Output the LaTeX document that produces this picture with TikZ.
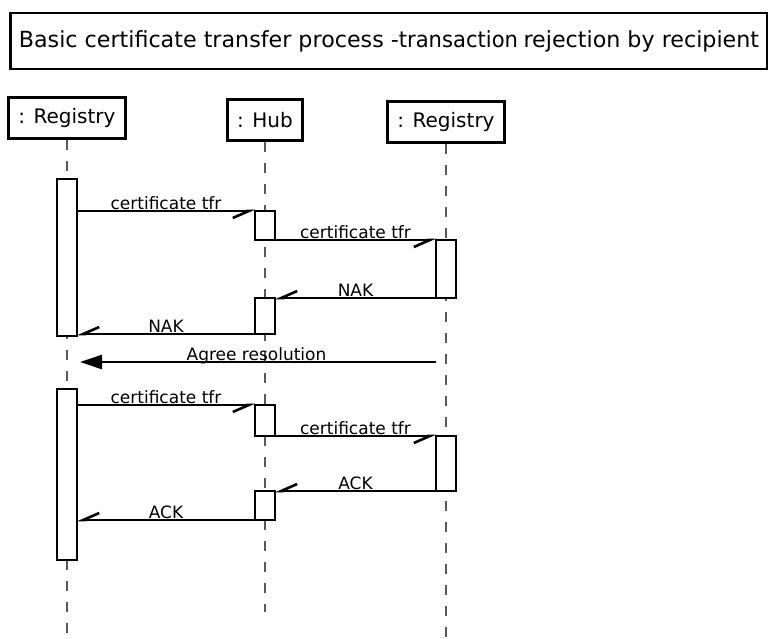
\documentclass[tikz,border=0pt]{standalone}
\usepackage{fontspec}
\setmainfont{DejaVu Sans}
\usepackage{graphicx}
\usetikzlibrary{arrows.meta}

\begin{document}
\begin{tikzpicture}[x=1pt, y=-1pt,
  every node/.style={font=\fontsize{17}{20}\selectfont},
  head/.style={draw, line width=3pt, inner xsep=10pt, minimum height=41pt, font=\fontsize{20}{24}\selectfont},
  act/.style={draw, fill=white, line width=2.6pt, minimum width=20pt, inner sep=0pt, outer sep=0pt, anchor=north},
  life/.style={line width=2pt, black!65, dash pattern=on 10pt off 11pt},
  msg/.style={line width=2.6pt, -{Straight Barb[harpoon, swap, length=16pt, width=14pt]}},
  lbl/.style={anchor=base, inner sep=0pt, yshift=1.5pt}]
\useasboundingbox (0,0) rectangle (768,638);
\coordinate (bottom) at (0,640);

% title
\node[draw, line width=2.8pt, minimum width=757pt, minimum height=56pt, inner xsep=3pt, font=\fontsize{22.2}{26}\selectfont] (title) at (389,41)
  {Basic certificate transfer process -\scalebox{0.95}[1]{transaction}\hspace{-1.5pt} rejection by recipient};

% lifeline heads
\node[head] (reg1) at (67,117.5) {: Registry};
\node[head] (hub) at (265,120) {: Hub};
\node[head] (reg2) at (446,122) {: Registry};

% lifelines
\draw[life] (reg1.south) -- (reg1.south |- bottom);
\draw[life] (hub.south) -- (hub.south |- 0,612);
\draw[life] (reg2.south) -- (reg2.south |- bottom);

% first exchange, rejected
\node[act, minimum height=157pt] (reg1a) at (reg1.south |- 0,179) {};
\node[act, minimum height=29pt] (hub1) at (hub.south |- 0,211) {};
\node[act, minimum height=58pt] (reg2a) at (reg2.south |- hub1.south) {};
\node[act, minimum height=36pt] (hub2) at (hub.south |- reg2a.south) {};

\draw[msg] (hub1.north west -| reg1a.east) -- (hub1.north west) node[lbl, midway] {certificate tfr};
\draw[msg] (hub1.south east) -- (hub1.south east -| reg2a.west) node[lbl, midway] {certificate tfr};
\draw[msg] (reg2a.south west) -- (hub2.north east) node[lbl, midway] {NAK};
\draw[msg] (hub2.south west) -- (hub2.south west -| reg1a.east) node[lbl, midway] {NAK};

% resolution
\coordinate (agree) at (reg2a.west |- 0,362);
\draw[line width=2.6pt, -{Triangle[length=22pt, width=14pt]}, shorten >=3pt] (agree) -- (agree -| reg1a.east) node[lbl, midway] {Agree resolution};

% second exchange, accepted
\node[act, minimum height=171pt] (reg1b) at (reg1.south |- 0,389) {};
\node[act, minimum height=31pt] (hub3) at (hub.south |- 0,405) {};
\node[act, minimum height=55pt] (reg2b) at (reg2.south |- hub3.south) {};
\node[act, minimum height=29pt] (hub4) at (hub.south |- reg2b.south) {};

\draw[msg] (hub3.north west -| reg1b.east) -- (hub3.north west) node[lbl, midway] {certificate tfr};
\draw[msg] (hub3.south east) -- (hub3.south east -| reg2b.west) node[lbl, midway] {certificate tfr};
\draw[msg] (reg2b.south west) -- (hub4.north east) node[lbl, midway] {ACK};
\draw[msg] (hub4.south west) -- (hub4.south west -| reg1b.east) node[lbl, midway] {ACK};
\end{tikzpicture}
\end{document}
